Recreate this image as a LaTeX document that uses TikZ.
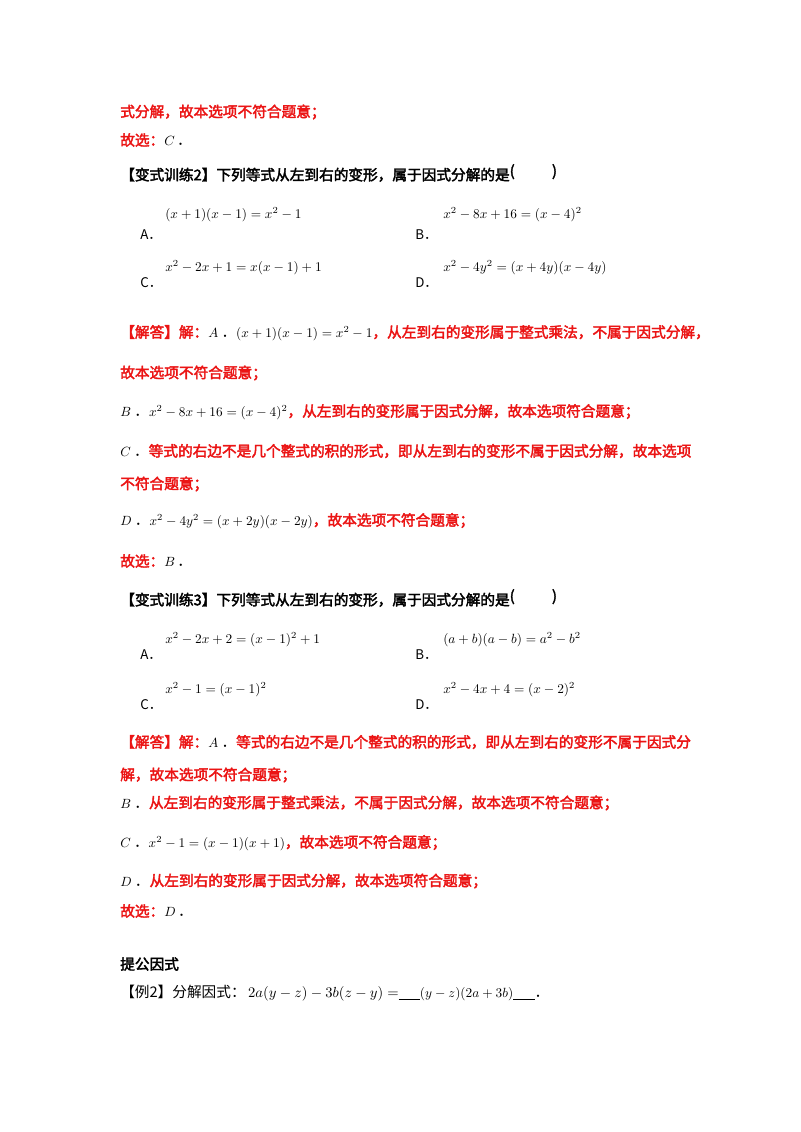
\documentclass[tikz,border=0pt]{standalone}
\usepackage{fontspec}
\usepackage{amsmath}
\newfontfamily\cjk[AutoFakeBold=2.5]{Noto Sans CJK SC}
\definecolor{rd}{RGB}{235,20,20}
\newcommand{\RR}[1]{\textcolor{rd}{\bfseries #1}}
\newcommand{\mth}[1]{{\fontsize{10}{12}\selectfont$#1$}}
\begin{document}
\begin{tikzpicture}[x=0.75pt,y=-0.75pt,
  tx/.style={anchor=west,inner sep=0pt,font=\cjk\fontsize{11}{13}\selectfont},
  lb/.style={anchor=west,inner sep=0pt,font=\cjk\fontsize{10}{12}\selectfont}]
\path[use as bounding box,fill=white] (0,0) rectangle (800,1132);
\node[tx] (l1) at (120,112) {\RR{式分解，故本选项不符合题意；}};
\node[tx] (l2) at (120,140) {\RR{故选：}\mth{C}\,．};
\node[tx] (l3) at (120,173) {\bfseries【变式训练2】下列等式从左到右的变形，属于因式分解的是\raisebox{3pt}{(}\hspace{28pt}\raisebox{3pt}{)}};
\node[tx] (a1m) at (165,215) {\mth{(x+1)(x-1)=x^2-1}};
\node[lb] (a1l) at (140,235) {A．};
\node[tx] (b1m) at (443,215) {\mth{x^2-8x+16=(x-4)^2}};
\node[lb] (b1l) at (415,235) {B．};
\node[tx] (c1m) at (165,268) {\mth{x^2-2x+1=x(x-1)+1}};
\node[lb] (c1l) at (140,283) {C．};
\node[tx] (d1m) at (443,268) {\mth{x^2-4y^2=(x+4y)(x-4y)}};
\node[lb] (d1l) at (415,283) {D．};
\node[tx] (s1) at (120,333) {\RR{【解答】解：}\mth{A}\ ．\mth{(x+1)(x-1)=x^2-1}\RR{，从左到右的变形属于整式乘法，不属于因式分解，}};
\node[tx] (s2) at (120,373) {\RR{故本选项不符合题意；}};
\node[tx] (s3) at (120,412) {\mth{B}\ ．\mth{x^2-8x+16=(x-4)^2}\RR{，从左到右的变形属于因式分解，故本选项符合题意；}};
\node[tx] (s4) at (120,451) {\mth{C}\ ．\RR{等式的右边不是几个整式的积的形式，即从左到右的变形不属于因式分解，故本选项}};
\node[tx] (s5) at (120,484) {\RR{不符合题意；}};
\node[tx] (s6) at (120,521) {\mth{D}\ ．\mth{x^2-4y^2=(x+2y)(x-2y)}\RR{，故本选项不符合题意；}};
\node[tx] (s7) at (120,561) {\RR{故选：}\mth{B}\,．};
\node[tx] (l4) at (120,598) {\bfseries【变式训练3】下列等式从左到右的变形，属于因式分解的是\raisebox{3pt}{(}\hspace{28pt}\raisebox{3pt}{)}};
\node[tx] (a2m) at (165,640) {\mth{x^2-2x+2=(x-1)^2+1}};
\node[lb] (a2l) at (140,655) {A．};
\node[tx] (b2m) at (443,640) {\mth{(a+b)(a-b)=a^2-b^2}};
\node[lb] (b2l) at (415,655) {B．};
\node[tx] (c2m) at (165,690) {\mth{x^2-1=(x-1)^2}};
\node[lb] (c2l) at (140,705) {C．};
\node[tx] (d2m) at (443,690) {\mth{x^2-4x+4=(x-2)^2}};
\node[lb] (d2l) at (415,705) {D．};
\node[tx] (t1) at (120,742) {\RR{【解答】解：}\mth{A}\ ．\RR{等式的右边不是几个整式的积的形式，即从左到右的变形不属于因式分}};
\node[tx] (t2) at (120,775) {\RR{解，故本选项不符合题意；}};
\node[tx] (t3) at (120,803) {\mth{B}\ ．\RR{从左到右的变形属于整式乘法，不属于因式分解，故本选项不符合题意；}};
\node[tx] (t4) at (120,843) {\mth{C}\ ．\mth{x^2-1=(x-1)(x+1)}\RR{，故本选项不符合题意；}};
\node[tx] (t5) at (120,881) {\mth{D}\ ．\RR{从左到右的变形属于因式分解，故本选项符合题意；}};
\node[tx] (t6) at (120,911) {\RR{故选：}\mth{D}\,．};
\node[tx] (h1) at (120,964) {\bfseries 提公因式};
\node[tx] (e1) at (120,993) {【例2】分解因式：\,{\fontsize{11}{13}\selectfont$2a(y-z)-3b(z-y)=$}\underline{\hspace{16pt}}\mth{(y-z)(2a+3b)}\underline{\hspace{16pt}}．};
\end{tikzpicture}
\end{document}
